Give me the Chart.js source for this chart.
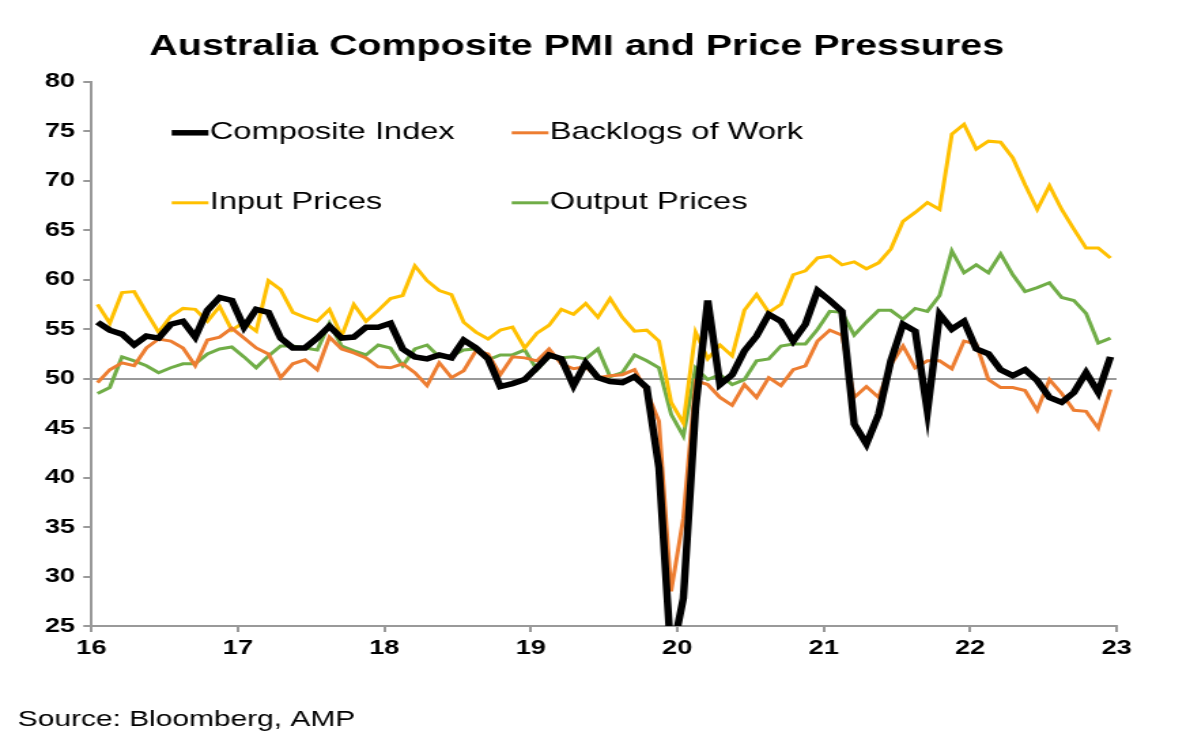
<!DOCTYPE html>
<html>
<head>
<title>Australia Composite PMI</title>
<script src="https://cdn.jsdelivr.net/npm/chart.js"></script>
<style>
  body { margin:0; background:#fff; overflow:hidden; }
  /* the reference picture is stretched sideways, so the canvas is too */
  #wrap { width:867px; height:754px; transform:scaleX(1.36); transform-origin:0 0; }
</style>
</head>
<body>
<div id="wrap"><canvas id="pmi" width="867" height="754"></canvas></div>
<script>
// monthly, Jan 2016 .. Dec 2022
const yearLabels = ['16','17','18','19','20','21','22','23'];
const yTicks = [25,30,35,40,45,50,55,60,65,70,75,80];

const composite = [55.7,54.9,54.5,53.4,54.3,54.1,55.5,55.8,54.2,56.9,58.2,57.9,55.2,57.0,56.7,54.1,53.1,53.1,54.1,55.3,54.1,54.2,55.2,55.2,55.6,53.0,52.2,52.0,52.4,
  52.1,53.9,53.1,52.0,49.2,49.5,49.9,51.1,52.4,52.0,49.3,51.6,50.1,49.7,49.6,50.2,49.1,41.0,21.7,27.8,47.0,57.9,49.4,50.4,52.8,54.3,
  56.5,55.8,53.8,55.5,58.9,57.9,56.8,45.4,43.4,46.4,51.8,55.5,54.8,46.7,56.5,55.0,55.8,53.0,52.5,50.9,50.3,50.9,49.8,48.1,47.6,48.6,50.6,48.6,52.2];
const backlogs = [49.6,50.9,51.6,51.3,53.1,54.0,53.8,53.1,51.3,53.9,54.2,55.1,54.1,53.1,52.5,50.1,51.5,51.9,50.9,54.2,53.0,52.6,52.1,51.2,51.1,51.5,50.6,49.3,51.6,
  50.1,50.8,52.8,52.5,50.4,52.2,52.1,51.8,53.0,51.5,51.0,51.2,50.1,50.3,50.4,50.9,48.7,45.7,28.5,35.9,49.8,49.4,48.1,47.3,49.4,48.1,
  50.1,49.3,50.9,51.3,53.8,54.9,54.4,48.1,49.2,48.1,51.4,53.3,51.1,51.8,51.8,51.0,53.8,53.5,49.9,49.1,49.1,48.8,46.8,49.9,48.5,46.8,46.7,45.0,48.9];
const inputPrices = [57.5,55.6,58.7,58.8,56.7,54.7,56.3,57.1,57.0,55.8,57.3,54.9,55.7,54.8,59.9,59.0,56.7,56.2,55.8,57.0,54.3,57.5,55.8,56.9,58.1,58.4,61.4,59.9,58.9,
  58.5,55.7,54.7,54.0,54.9,55.2,53.1,54.6,55.4,57.0,56.5,57.6,56.2,58.1,56.2,54.8,54.9,53.8,47.6,45.5,54.7,52.0,53.4,52.3,56.9,58.5,
  56.7,57.5,60.5,60.9,62.2,62.4,61.5,61.8,61.1,61.7,63.1,65.9,66.8,67.8,67.1,74.7,75.7,73.2,74.0,73.9,72.3,69.6,67.1,69.5,67.1,65.1,63.2,63.2,62.2];
const outputPrices = [48.5,49.1,52.2,51.8,51.3,50.6,51.1,51.5,51.5,52.5,53.0,53.2,52.2,51.1,52.3,53.3,53.3,53.1,52.9,55.6,53.3,52.8,52.4,53.4,53.1,51.3,53.0,53.4,52.2,
  52.3,52.9,53.0,51.9,52.4,52.4,52.9,50.9,52.2,52.1,52.2,52.0,53.0,50.2,50.6,52.4,51.8,51.1,46.4,44.2,51.1,49.9,50.4,49.4,49.9,51.8,
  52.0,53.3,53.5,53.5,55.0,56.8,56.7,54.4,55.7,56.9,56.9,56.0,57.1,56.8,58.4,62.9,60.7,61.5,60.7,62.6,60.5,58.8,59.2,59.7,58.2,57.9,56.6,53.6,54.1];

function pts(arr) { return arr.map((v, i) => ({x: i + 0.5, y: v})); }

const FONT = '"Liberation Sans", Arial, sans-serif';

// legend inside the plot (two columns) + source note at the bottom
const extras = {
  id: 'extras',
  afterDraw(chart) {
    const c = chart.ctx, a = chart.chartArea;
    const ds = chart.data.datasets;
    const cols = [a.left + 59, a.left + 309];
    const rows = [a.top + 51, a.top + 121];
    c.save();
    c.font = '24px ' + FONT;
    c.textBaseline = 'middle';
    ds.forEach((d, i) => {
      const x = cols[i % 2], y = rows[Math.floor(i / 2)];
      c.strokeStyle = d.borderColor;
      c.lineWidth = d.borderWidth;
      c.beginPath(); c.moveTo(x, y); c.lineTo(x + 27, y); c.stroke();
      c.fillStyle = '#000';
      c.fillText(d.label, x + 28, y);
    });
    c.font = '22px ' + FONT;
    c.fillText('Source: Bloomberg, AMP', 13, 720);
    c.restore();
  }
};

new Chart(document.getElementById('pmi'), {
  type: 'line',
  data: {
    datasets: [
      {label: 'Composite Index', data: pts(composite), borderColor: '#000000', borderWidth: 5.5},
      {label: 'Backlogs of Work', data: pts(backlogs), borderColor: '#ED7D31', borderWidth: 3},
      {label: 'Input Prices', data: pts(inputPrices), borderColor: '#FFC000', borderWidth: 3},
      {label: 'Output Prices', data: pts(outputPrices), borderColor: '#70AD47', borderWidth: 3}
    ]
  },
  options: {
    responsive: false,
    animation: false,
    devicePixelRatio: 1,
    elements: { point: { radius: 0 }, line: { tension: 0 } },
    layout: { padding: { left: 27, right: 46, top: 0, bottom: 90 } },
    plugins: {
      legend: { display: false },
      tooltip: { enabled: false },
      title: {
        display: true,
        text: 'Australia Composite PMI and Price Pressures',
        color: '#000',
        font: { family: FONT, size: 29, weight: 'bold' },
        padding: { top: 30, bottom: 17 }
      }
    },
    scales: {
      x: {
        type: 'linear', min: 0, max: 84,
        border: { color: '#999', width: 2 },
        grid: { drawOnChartArea: false, color: '#999', tickLength: 6, lineWidth: 2 },
        ticks: {
          stepSize: 12, color: '#000', padding: 4,
          font: { family: FONT, size: 20, weight: 'bold' },
          callback: v => yearLabels[v / 12]
        }
      },
      y: {
        min: 25, max: 80,
        afterBuildTicks: ax => { ax.ticks = yTicks.map(v => ({value: v})); },
        border: { color: '#999', width: 2 },
        grid: {
          color: ctx => ctx.tick && ctx.tick.value === 50 ? '#999' : 'rgba(0,0,0,0)',
          tickColor: '#999', tickLength: 6, lineWidth: 2
        },
        ticks: { color: '#000', padding: 6, font: { family: FONT, size: 20, weight: 'bold' } }
      }
    }
  },
  plugins: [extras]
});
</script>
</body>
</html>
